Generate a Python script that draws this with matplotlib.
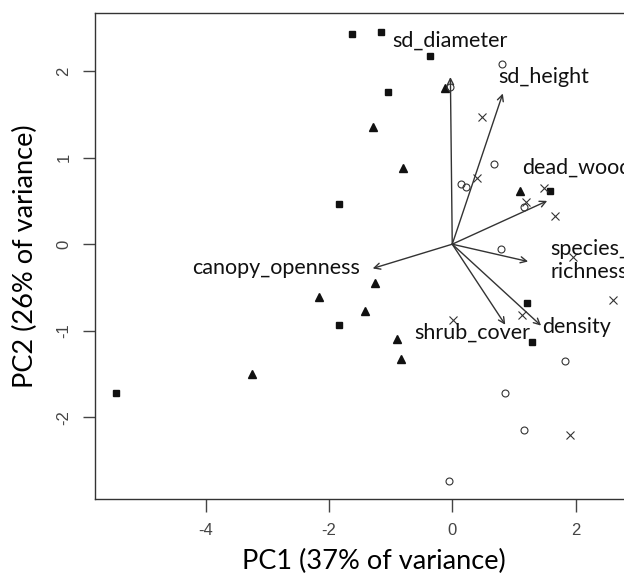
import matplotlib.pyplot as plt

plt.rcParams['axes.unicode_minus'] = False

# PCA site scores, grouped by site type
sq_x = [-1.63, -1.15, -0.36, -1.04, -1.84, 1.58, -5.45, -1.84, 1.22, 1.29]
sq_y = [2.43, 2.45, 2.17, 1.76, 0.46, 0.61, -1.72, -0.93, -0.68, -1.13]

tri_x = [-0.12, -1.29, -0.80, 1.10, -1.25, -2.16, -1.42, -0.90, -0.83, -3.25]
tri_y = [1.80, 1.35, 0.88, 0.61, -0.45, -0.61, -0.77, -1.09, -1.33, -1.50]

circ_x = [0.80, -0.03, 0.67, 0.14, 0.22, 1.16, 0.79, 1.83, 0.86, 1.17, -0.05]
circ_y = [2.08, 1.82, 0.93, 0.70, 0.66, 0.43, -0.06, -1.35, -1.72, -2.15, -2.73]

cross_x = [0.48, 0.40, 1.49, 1.20, 1.67, 1.96, 2.61, 0.02, 1.13, 1.91]
cross_y = [1.47, 0.76, 0.65, 0.49, 0.33, -0.15, -0.64, -0.88, -0.82, -2.20]

# variable loadings (arrow tips)
var_names = ['sd_diameter', 'sd_height', 'dead_wood', 'species_\nrichness',
             'canopy_openness', 'shrub_cover', 'density']
load_x = [-0.03, 0.82, 1.54, 1.23, -1.29, 0.86, 1.44]
load_y = [1.93, 1.74, 0.50, -0.20, -0.28, -0.93, -0.94]

# where each variable name goes, and how it is anchored
label_x = [-0.04, 0.75, 1.13, 1.59, -1.50, 0.33, 1.45]
label_y = [2.35, 1.93, 0.88, -0.19, -0.275, -1.025, -0.953]
label_ha = ['center', 'left', 'left', 'left', 'right', 'center', 'left']

fig = plt.figure(figsize=(6.24, 5.79), dpi=100)
ax = fig.add_axes([0.1522, 0.1382, 0.8942, 0.8394])

ink = '#111111'
ax.plot(sq_x, sq_y, 's', ms=5, color=ink, ls='none')
ax.plot(tri_x, tri_y, '^', ms=6, color=ink, ls='none')
ax.plot(circ_x, circ_y, 'o', ms=5, mfc='none', mec='#333333', mew=0.8, ls='none')
ax.plot(cross_x, cross_y, 'x', ms=6, mec='#333333', mew=0.8, ls='none')

for lx, ly in zip(load_x, load_y):
    ax.annotate('', xy=(lx, ly), xytext=(0, 0),
                arrowprops=dict(arrowstyle='->', color='#333333', lw=1.0,
                                mutation_scale=11, shrinkA=0, shrinkB=0))

for name, tx, ty, ha in zip(var_names, label_x, label_y, label_ha):
    ax.text(tx, ty, name, ha=ha, va='center', fontsize=15.5, family='Lato',
            color=ink, linespacing=1.15)

ax.set_xlim(-5.794, 3.255)
ax.set_ylim(-2.942, 2.670)
ax.set_xticks([-4, -2, 0, 2])
ax.set_yticks([-2, -1, 0, 1, 2])
ax.tick_params(direction='out', length=9, width=1, color='#444444',
               labelcolor='#444444', labelsize=12, pad=8)
for lab in ax.get_xticklabels() + ax.get_yticklabels():
    lab.set_family('Liberation Sans')
for lab in ax.get_yticklabels():
    lab.set_rotation(90)
    lab.set_va('center')
for sp in ax.spines.values():
    sp.set_color('#333333')
    sp.set_linewidth(1.0)

ax.set_xlabel('PC1 (37% of variance)', fontsize=19.5, family='Lato', labelpad=8)
ax.set_ylabel('PC2 (26% of variance)', fontsize=19.5, family='Lato', labelpad=13)

fig.savefig('out.png', dpi=100)
